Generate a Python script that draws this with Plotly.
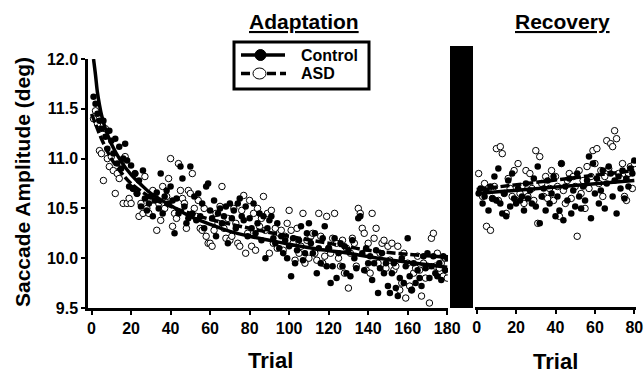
import plotly.graph_objects as go

# ---------------- data ----------------
adapt_trials = list(range(1, 181))
control_adapt = [
    11.62, 11.55, 11.45, 11.38, 11.30, 11.38, 11.22, 11.10, 11.28, 11.18,
    11.05, 11.20, 10.95, 11.12, 10.90, 11.00, 11.15, 10.98, 10.72, 10.93,
    10.70, 10.85, 10.65, 10.78, 10.52, 10.88, 10.60, 10.48, 10.55, 10.62,
    10.42, 10.58, 10.66, 10.50, 10.85, 10.45, 10.62, 10.68, 10.55, 10.72,
    10.58, 10.25, 10.60, 10.45, 10.92, 10.80, 10.52, 10.35, 10.40, 10.92,
    10.45, 10.62, 10.38, 10.65, 10.42, 10.55, 10.30, 10.72, 10.75, 10.48,
    10.40, 10.58, 10.22, 10.45, 10.50, 10.35, 10.42, 10.52, 10.15, 10.55,
    10.40, 10.48, 10.30, 10.55, 10.60, 10.42, 10.38, 10.52, 10.22, 10.40,
    10.30, 10.55, 10.25, 10.35, 10.45, 10.18, 10.42, 10.00, 10.30, 10.38,
    10.42, 10.20, 10.15, 10.35, 10.10, 10.22, 10.05, 10.18, 10.00, 10.12,
    9.82, 10.20, 9.95, 10.08, 10.18, 10.32, 9.98, 10.05, 10.25, 10.35,
    10.15, 10.05, 10.25, 9.85, 10.10, 9.95, 10.20, 10.32, 9.92, 10.10,
    9.75, 9.92, 10.20, 9.80, 10.05, 10.15, 9.92, 10.12, 9.85, 10.08,
    9.82, 10.18, 10.00, 9.90, 10.40, 10.42, 10.05, 9.88, 10.10, 9.95,
    10.02, 9.78, 9.95, 10.08, 9.65, 9.90, 10.05, 9.85, 9.95, 9.72,
    9.65, 9.85, 9.95, 9.70, 9.62, 9.80, 10.00, 9.75, 9.92, 10.20,
    9.82, 9.68, 9.95, 9.75, 9.88, 9.80, 9.72, 10.02, 9.90, 10.05,
    9.80, 9.92, 10.02, 9.85, 9.82, 9.95, 9.78, 10.02, 9.88, 10.00,
]
asd_adapt = [
    11.40, 11.48, 11.35, 11.08, 11.05, 10.78, 11.30, 11.00, 10.92, 11.02,
    10.88, 10.65, 10.85, 10.80, 10.95, 10.55, 11.02, 10.55, 10.60, 10.55,
    10.70, 10.85, 10.65, 10.42, 10.55, 10.45, 10.82, 10.50, 10.45, 10.58,
    10.68, 10.62, 10.28, 10.55, 10.38, 10.72, 10.50, 10.62, 10.80, 11.00,
    10.32, 10.45, 10.40, 10.95, 10.68, 10.60, 10.55, 10.30, 10.68, 10.65,
    10.85, 10.50, 10.42, 10.58, 10.30, 10.28, 10.50, 10.22, 10.15, 10.15,
    10.12, 10.28, 10.45, 10.35, 10.52, 10.72, 10.30, 10.20, 10.40, 10.18,
    10.22, 10.50, 10.35, 10.15, 10.12, 10.48, 10.63, 10.05, 10.25, 10.58,
    10.12, 10.45, 10.08, 10.50, 10.32, 10.40, 10.62, 10.28, 10.45, 10.05,
    10.48, 10.15, 10.30, 10.10, 10.25, 10.28, 10.08, 10.22, 10.35, 10.48,
    10.28, 10.15, 9.98, 10.30, 10.05, 10.12, 10.45, 9.95, 10.18, 10.00,
    10.22, 10.25, 10.05, 9.98, 10.45, 10.22, 9.95, 10.02, 10.42, 10.10,
    10.05, 10.20, 10.45, 10.15, 10.00, 9.92, 10.18, 9.85, 10.10, 9.70,
    10.05, 10.20, 10.15, 9.92, 10.50, 10.45, 10.30, 10.25, 9.88, 10.15,
    9.85, 10.45, 10.20, 10.30, 9.95, 10.05, 10.15, 10.18, 9.90, 10.12,
    9.98, 10.15, 9.88, 9.92, 10.12, 9.68, 9.75, 10.05, 9.60, 9.95,
    9.72, 9.68, 9.85, 9.90, 10.02, 9.88, 9.62, 9.95, 9.80, 9.92,
    9.55, 10.20, 10.25, 9.92, 10.05, 9.90, 9.95, 9.82, 10.00, 9.80,
]

recov_trials = list(range(1, 81))
control_recov = [
    10.65, 10.70, 10.55, 10.62, 10.68, 10.48, 10.72, 10.60, 10.82, 10.58,
    10.90, 10.55, 10.45, 10.65, 10.42, 10.78, 10.52, 10.85, 10.60, 10.55,
    10.70, 10.58, 10.62, 10.48, 10.75, 10.60, 10.68, 10.55, 10.80, 10.52,
    10.92, 10.35, 10.62, 10.70, 10.48, 10.78, 10.55, 10.65, 10.82, 10.42,
    10.62, 10.48, 10.95, 10.38, 10.72, 10.58, 10.80, 10.45, 10.68, 10.52,
    10.85, 10.62, 10.50, 10.72, 10.58, 10.78, 11.02, 10.40, 10.95, 10.65,
    10.80, 10.55, 10.68, 10.88, 10.50, 10.75, 10.92, 10.85, 10.62, 10.78,
    10.45, 10.82, 10.70, 10.88, 10.60, 10.80, 10.72, 10.90, 10.85, 10.98,
]
asd_recov = [
    10.85, 10.68, 10.62, 10.75, 10.32, 10.70, 10.28, 10.60, 10.72, 11.10,
    10.58, 11.12, 11.05, 10.65, 10.45, 10.80, 10.70, 10.62, 10.88, 10.58,
    10.95, 10.65, 10.72, 10.55, 10.88, 10.62, 10.85, 10.70, 10.58, 11.08,
    10.35, 11.02, 10.75, 10.62, 10.82, 10.60, 10.70, 10.88, 10.58, 10.82,
    10.72, 10.42, 10.95, 10.68, 10.55, 10.78, 10.85, 10.60, 10.82, 10.72,
    10.22, 10.88, 10.65, 10.78, 10.50, 10.92, 10.70, 10.82, 11.08, 10.95,
    11.10, 10.75, 10.88, 10.62, 10.82, 11.18, 10.90, 11.15, 11.12, 11.28,
    11.20, 10.85, 10.80, 10.95, 10.62, 10.58, 10.85, 10.92, 10.70, 10.95,
]

# fitted curves
control_fit_t = [1, 2, 3, 4, 5, 7, 10, 15, 20, 25, 30, 40, 50, 60, 70, 80, 90, 100, 115, 130, 145, 160, 180]
control_fit = [12.0, 11.84, 11.66, 11.54, 11.44, 11.30, 11.15, 10.97, 10.84, 10.74, 10.65, 10.53, 10.42,
               10.34, 10.27, 10.22, 10.18, 10.14, 10.09, 10.05, 10.00, 9.96, 9.91]
asd_fit_t = [0, 2, 5, 10, 15, 20, 30, 40, 50, 60, 80, 100, 120, 140, 160, 180]
asd_fit = [11.45, 11.35, 11.20, 11.00, 10.86, 10.75, 10.61, 10.52, 10.45, 10.39, 10.30, 10.22,
           10.15, 10.08, 10.04, 10.01]
recov_fit_t = [0, 80]
control_recov_fit = [10.65, 10.78]
asd_recov_fit = [10.69, 10.88]

x_ticks_adapt = [0, 20, 40, 60, 80, 100, 120, 140, 160, 180]
x_ticks_recov = [0, 20, 40, 60, 80]
y_ticks = [9.5, 10.0, 10.5, 11.0, 11.5, 12.0]
legend_names = ["Control", "ASD"]

FONT = "Liberation Sans, Arial, sans-serif"
MS = 6.5

fig = go.Figure()

def add_panel(xa, t, ctl, asd, ft_c, fc, ft_a, fa):
    fig.add_trace(go.Scatter(x=t, y=asd, mode="markers", xaxis=xa, yaxis="y", showlegend=False,
                             marker=dict(size=MS, color="white", line=dict(color="black", width=1))))
    fig.add_trace(go.Scatter(x=t, y=ctl, mode="markers", xaxis=xa, yaxis="y", showlegend=False,
                             marker=dict(size=MS, color="black", line=dict(color="black", width=0))))
    fig.add_trace(go.Scatter(x=ft_a, y=fa, mode="lines", xaxis=xa, yaxis="y", showlegend=False,
                             line=dict(color="black", width=3.5, dash="9px,3px", shape="spline")))
    fig.add_trace(go.Scatter(x=ft_c, y=fc, mode="lines", xaxis=xa, yaxis="y", showlegend=False,
                             line=dict(color="black", width=3.5, shape="spline")))

add_panel("x", adapt_trials, control_adapt, asd_adapt, control_fit_t, control_fit, asd_fit_t, asd_fit)
add_panel("x2", recov_trials, control_recov, asd_recov, recov_fit_t, control_recov_fit, recov_fit_t, asd_recov_fit)

L, R, T, B = 88, 6, 59, 66
PW = 644 - L - R
PH = 374 - T - B

def px(xp):
    return (xp - L) / PW

def py(yp):
    return (374 - B - yp) / PH

axis_common = dict(showgrid=False, zeroline=False, showline=True, linecolor="black", linewidth=2.5,
                   ticks="outside", ticklen=4, tickwidth=2, tickcolor="black", automargin=False,
                   tickfont=dict(family=FONT, size=16, color="black", weight="bold"))

fig.update_layout(
    width=644, height=374,
    margin=dict(l=L, r=R, t=T, b=B, autoexpand=False),
    paper_bgcolor="white", plot_bgcolor="white",
    xaxis=dict(domain=[0, px(448)], range=[-1.8, 180.4], tickvals=x_ticks_adapt, anchor="y",
               **axis_common),
    xaxis2=dict(domain=[px(475), px(636)], range=[-0.85, 80.85], tickvals=x_ticks_recov, anchor="free",
                position=0, **axis_common),
    yaxis=dict(range=[9.5, 12.0], tickvals=y_ticks, tickformat=".1f", **axis_common),
    showlegend=False,
)

# black separator bar
fig.add_shape(type="rect", xref="paper", yref="paper", x0=px(450), x1=px(473), y0=0, y1=py(46),
              fillcolor="black", line=dict(width=0), layer="above")

# legend (drawn box, samples and labels)
fig.add_shape(type="rect", xref="paper", yref="paper", x0=px(234), x1=px(369), y0=py(89), y1=py(42),
              fillcolor="white", line=dict(color="black", width=3), layer="above")
rows = [55, 73.5]
fig.add_shape(type="line", xref="paper", yref="paper", x0=px(241), x1=px(285), y0=py(rows[0]), y1=py(rows[0]),
              line=dict(color="black", width=3.5), layer="above")
fig.add_shape(type="circle", xref="paper", yref="paper", x0=px(255), x1=px(266), y0=py(rows[0] + 5.5),
              y1=py(rows[0] - 5.5), fillcolor="black", line=dict(color="black", width=1), layer="above")
fig.add_shape(type="line", xref="paper", yref="paper", x0=px(241), x1=px(286), y0=py(rows[1]), y1=py(rows[1]),
              line=dict(color="black", width=3.5, dash="9px,4px"), layer="above")
fig.add_shape(type="circle", xref="paper", yref="paper", x0=px(253), x1=px(266), y0=py(rows[1] + 5.5),
              y1=py(rows[1] - 5.5), fillcolor="white", line=dict(color="black", width=1), layer="above")
for name, ry in zip(legend_names, rows):
    fig.add_annotation(text="<b>" + name + "</b>", x=px(299), y=py(ry), xref="paper", yref="paper",
                       xanchor="left", yanchor="middle", showarrow=False,
                       font=dict(family=FONT, size=16, color="black"))

ann_font = dict(family=FONT, color="black")
def label(text, xp, yp, size, angle=0):
    fig.add_annotation(text=text, x=px(xp), y=py(yp), xref="paper", yref="paper",
                       xanchor="center", yanchor="middle", showarrow=False, textangle=angle,
                       font=dict(size=size, **ann_font))

label("<b><u>Adaptation</u></b>", 304, 22, 21)
label("<b><u>Recovery</u></b>", 562, 22, 21)
label("<b>Trial</b>", 270, 360, 22)
label("<b>Trial</b>", 555, 361, 22)
label("<b>Saccade Amplitude (deg)</b>", 22, 182, 21, -90)

fig.write_html("out.html", config={"displayModeBar": False},
               post_script="document.body.style.margin='0px';document.body.style.overflow='hidden';")
